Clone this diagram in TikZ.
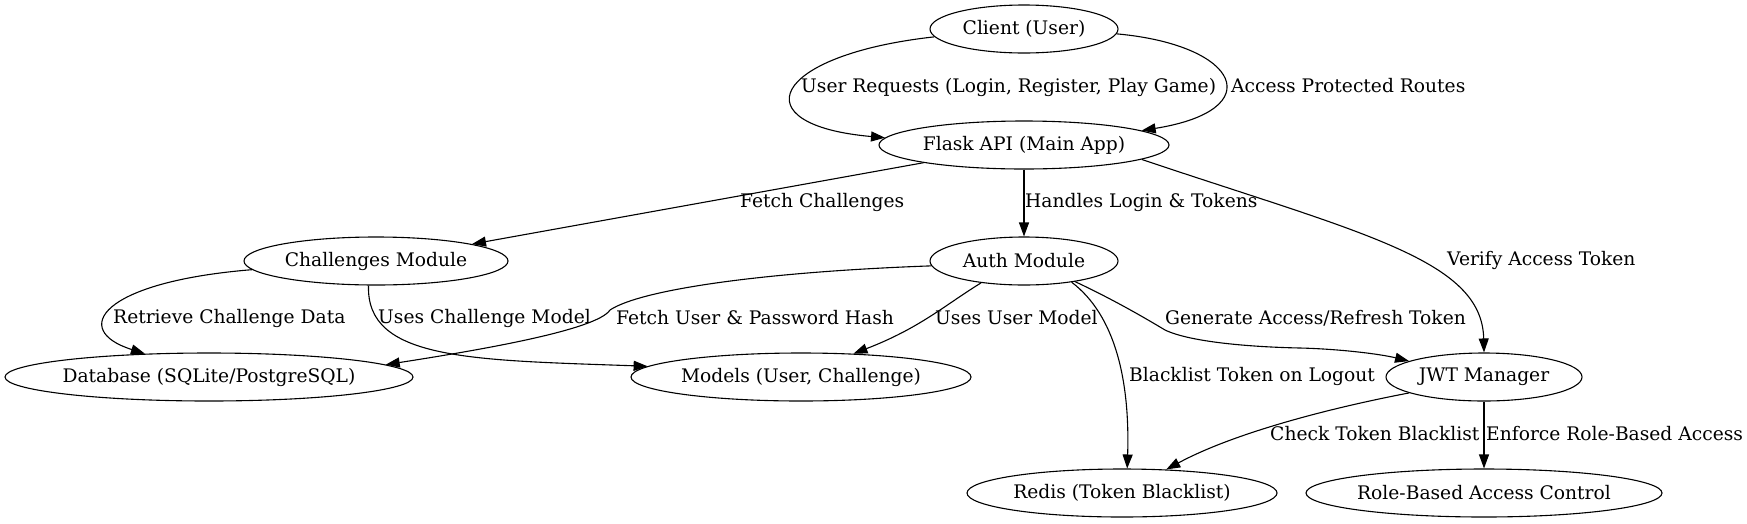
\documentclass[tikz,border=0pt]{standalone}
\usepackage{fontspec}
\setmainfont{DejaVu Serif}
\usetikzlibrary{shapes.geometric,arrows.meta}
\tikzset{
  gnode/.style={draw, ellipse, inner sep=0pt, minimum height=48pt, line width=1.1pt},
  elabel/.style={anchor=west, inner sep=0pt},
  edge/.style={-{Triangle[length=14pt,width=10pt]}, line width=1.1pt},
}
\begin{document}
\begin{tikzpicture}[x=1pt, y=-1pt, font=\fontsize{18.67pt}{22pt}\selectfont]
\useasboundingbox (0,0) rectangle (1747,523);
% nodes
\node[gnode, minimum width=188pt] (client) at (1024,29) {\makebox[0pt]{Client (User)}};
\node[gnode, minimum width=290pt] (flask) at (1024,145) {\makebox[0pt]{Flask API (Main App)}};
\node[gnode, minimum width=264pt] (chal) at (376,261) {\makebox[0pt]{Challenges Module}};
\node[gnode, minimum width=188pt] (auth) at (1024,261) {\makebox[0pt]{Auth Module}};
\node[gnode, minimum width=408pt] (db) at (209,377) {\makebox[0pt]{Database (SQLite/PostgreSQL)}};
\node[gnode, minimum width=340pt] (models) at (801,377) {\makebox[0pt]{Models (User, Challenge)}};
\node[gnode, minimum width=196pt] (jwt) at (1484,377) {\makebox[0pt]{JWT Manager}};
\node[gnode, minimum width=310pt] (redis) at (1122,493) {\makebox[0pt]{Redis (Token Blacklist)}};
\node[gnode, minimum width=356pt] (rbac) at (1484,493) {\makebox[0pt]{Role-Based Access Control}};
% edges
\draw[edge] (client.185.6) .. controls (770,55) and (740,125) .. (flask.177.5);
\draw[edge] (client.-3) .. controls (1240,45) and (1270,110) .. (flask.7.6);
\draw[edge] (flask.190.8) -- (chal.10.7);
\draw[edge] (flask.south) -- (auth.north);
\draw[edge] (flask.-7.6) .. controls (1364,234) and (1482,260) .. (jwt.north);
\draw[edge] (chal.184) .. controls (100,282) and (70,330) .. (db.160.6);
\draw[edge] (chal.253.7) .. controls (366,360) and (470,360) .. (models.176.7);
\draw[edge] (auth.183.7) .. controls (760,272) and (640,290) .. (610,310) .. controls (597,330) and (480,350) .. (db.4.6);
\draw[edge] (auth.207.6) .. controls (945,305) and (920,328) .. (models.24.4);
\draw[edge] (auth.-24.5) .. controls (1115,315) and (1130,380) .. (redis.78);
\draw[edge] (auth.-22) .. controls (1110,298) and (1140,315) .. (1165,330) .. controls (1190,342) and (1250,347) .. (1300,348) .. controls (1340,349) and (1380,354) .. (jwt.168);
\draw[edge] (jwt.192.6) .. controls (1320,410) and (1230,435) .. (redis.28);
\draw[edge] (jwt.south) -- (rbac.north);
% labels
\node[elabel] (l1) at (801,87) {User Requests (Login, Register, Play Game)};
\node[elabel] (l2) at (1231,86) {Access Protected Routes};
\node[elabel] (l3) at (740,202) {Fetch Challenges};
\node[elabel] (l4) at (1025,202) {Handles Login \& Tokens};
\node[elabel] (l5) at (1447,260) {Verify Access Token};
\node[elabel] (l6) at (113,318) {Retrieve Challenge Data};
\node[elabel] (l7) at (378,318) {Uses Challenge Model};
\node[elabel] (l8) at (616,318) {Fetch User \& Password Hash};
\node[elabel] (l9) at (935,318) {Uses User Model};
\node[elabel] (l10) at (1129,376) {Blacklist Token on Logout};
\node[elabel] (l11) at (1165,318) {Generate Access/Refresh Token};
\node[elabel] (l12) at (1270,434) {Check Token Blacklist};
\node[elabel] (l13) at (1486,434) {Enforce Role-Based Access};
\end{tikzpicture}
\end{document}
